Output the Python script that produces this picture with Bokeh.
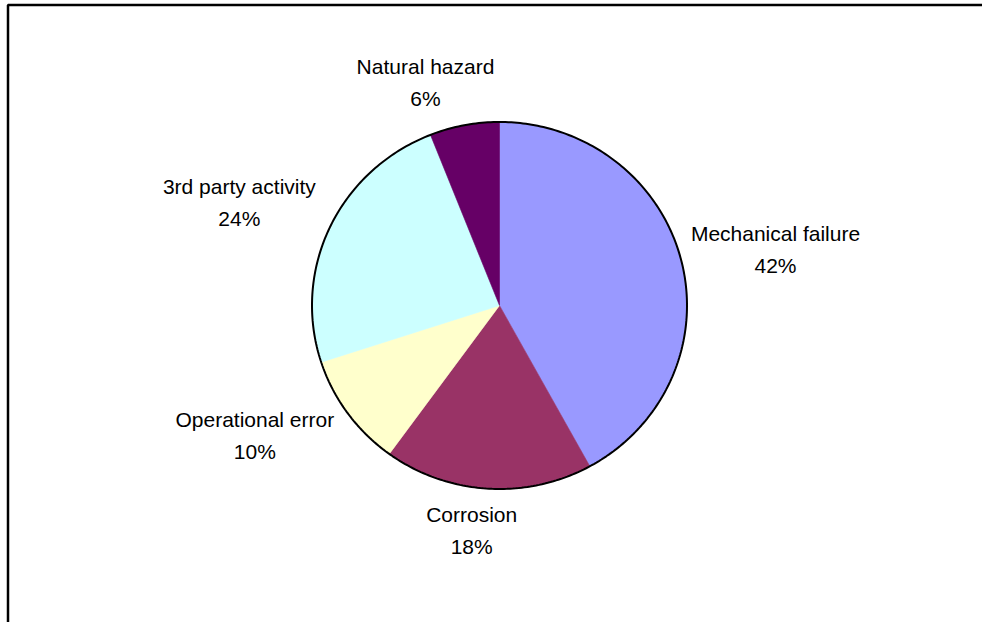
import numpy as np
from bokeh.plotting import figure
from bokeh.models import Range1d, BoxAnnotation, ColumnDataSource
from bokeh.core.properties import value
from bokeh.embed import file_html
from bokeh.resources import INLINE

# Incident causes, clockwise from 12 o'clock
causes = ["Mechanical failure", "Corrosion", "Operational error",
          "3rd party activity", "Natural hazard"]
shares = [42, 18, 10, 24, 6]
colors = ["#9999FF", "#993366", "#FFFFCC", "#CCFFFF", "#660066"]

W, H = 982, 622
CX, CY = 499.0, 305.0      # pie centre (pixel-like data units, y downward)
RX, RY = 187.5, 183.5      # slightly elliptical pie
FONT = "Liberation Sans"
FS = 21
LINE_GAP = 32
LABEL_GAP = 13
# hand adjustments of the label boxes, in pixels (dx, dy)
LABEL_NUDGE = [(-3, 16), (-14, 5), (-22, -32), (-8, 16), (-32, -3)]

p = figure(width=W, height=H, output_backend="svg", toolbar_location=None,
           x_range=Range1d(0, W), y_range=Range1d(H, 0),
           min_border=0, border_fill_color="white", background_fill_color="white")
p.axis.visible = False
p.grid.visible = False
p.outline_line_color = None

# chart-area frame (top and left edges visible)
p.add_layout(BoxAnnotation(left=7.5, top=4.5, right=W + 20, bottom=H + 20,
                           fill_alpha=0, line_color="black", line_alpha=1.0,
                           line_width=2.5))

total = float(sum(shares))
edges = np.concatenate([[0.0], np.cumsum(shares)]) / total * 2 * np.pi


def on_ellipse(theta):
    return CX + RX * np.sin(theta), CY - RY * np.cos(theta)


xs, ys = [], []
for a0, a1 in zip(edges[:-1], edges[1:]):
    t = np.linspace(a0, a1, max(8, int((a1 - a0) * 120)))
    ex, ey = on_ellipse(t)
    xs.append(np.concatenate([[CX], ex]).tolist())
    ys.append(np.concatenate([[CY], ey]).tolist())

p.patches(xs, ys, fill_color=colors, line_color=colors, line_width=0.6)

# outer rim
tt = np.linspace(0, 2 * np.pi, 400)
rx_, ry_ = on_ellipse(tt)
p.line(rx_, ry_, line_color="black", line_width=2)

# label placement: box centred on the slice bisector, just clear of the rim
ARIAL = {" ": 278, "%": 889, "C": 722, "M": 833, "N": 722, "O": 778,
         "a": 556, "c": 500, "d": 556, "e": 556, "f": 278, "h": 556,
         "i": 222, "l": 222, "n": 556, "o": 556, "p": 556, "r": 333,
         "s": 500, "t": 278, "u": 556, "v": 500, "y": 500, "z": 500}


def text_width(s):
    return sum(ARIAL.get(ch, 556) for ch in s) / 1000.0 * FS


pcts = [f"{v / total * 100:.0f}%" for v in shares]
lx, ly = [], []
for name, pct, a0, a1, (ndx, ndy) in zip(causes, pcts, edges[:-1], edges[1:], LABEL_NUDGE):
    th = 0.5 * (a0 + a1)
    ux, uy = np.sin(th), -np.cos(th)
    rim = np.hypot(RX * ux, RY * uy)
    hw = max(text_width(name), text_width(pct)) / 2
    hh = (LINE_GAP + 0.72 * FS) / 2
    lo, hi = 0.0, 600.0
    for _ in range(60):
        d = 0.5 * (lo + hi)
        bx, by = d * ux, d * uy
        nx = np.clip(0.0, bx - hw, bx + hw)
        ny = np.clip(0.0, by - hh, by + hh)
        if np.hypot(nx, ny) < rim + LABEL_GAP:
            lo = d
        else:
            hi = d
    lx.append(CX + d * ux + ndx)
    ly.append(CY + d * uy + ndy)

src = ColumnDataSource(dict(x=lx, y=ly, name=causes, pct=pcts))
common = dict(text_font=value(FONT), text_font_size=f"{FS}px", text_color="black",
              text_align="center", text_baseline="middle")
p.text("x", "y", text="name", source=src, y_offset=-LINE_GAP / 2, **common)
p.text("x", "y", text="pct", source=src, y_offset=LINE_GAP / 2, **common)

open("out.html", "w").write(file_html(p, INLINE))
